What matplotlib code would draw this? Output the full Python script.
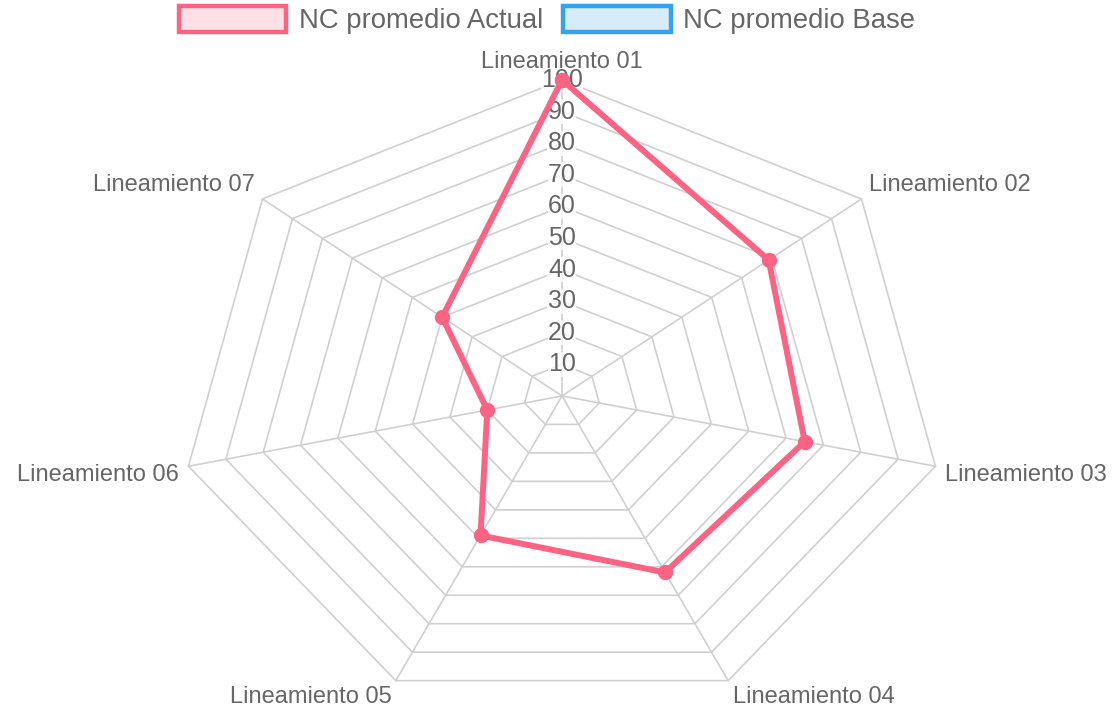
import numpy as np
import matplotlib.pyplot as plt
from matplotlib.patches import Patch

# chart data
categories = ['Lineamiento 01', 'Lineamiento 02', 'Lineamiento 03', 'Lineamiento 04',
              'Lineamiento 05', 'Lineamiento 06', 'Lineamiento 07']
actual = [100, 69, 65, 62, 49, 20, 40]
base = []  # series listed in the legend, nothing drawn
ticks = [10, 20, 30, 40, 50, 60, 70, 80, 90, 100]
series_labels = ['NC promedio Actual', 'NC promedio Base']

plt.rcParams['font.family'] = ['Liberation Sans', 'DejaVu Sans']
text_color = '#666666'
grid_color = '#d0d0d0'
pink = '#ff6384'
blue = '#36a2eb'

fig = plt.figure(figsize=(11.14, 7.11), dpi=100)
ax = fig.add_axes([0, 0, 1, 1])
# the reference is stretched horizontally, so keep aspect free
ax.set_xlim(-146.7, 144.1)
ax.set_ylim(-99.7, 125.3)
ax.axis('off')

n = len(categories)
ang = np.arange(n) * 2 * np.pi / n
sx, sy = np.sin(ang), np.cos(ang)

# grid polygons
for t in ticks:
    ax.plot(np.append(sx, sx[0]) * t, np.append(sy, sy[0]) * t,
            color=grid_color, lw=1.2, zorder=1)
# angle lines
for i in range(n):
    ax.plot([0, sx[i] * ticks[-1]], [0, sy[i] * ticks[-1]], color=grid_color, lw=1.2, zorder=1)

# radial tick labels
for t in ticks:
    ax.text(0, t, str(t), ha='center', va='center', fontsize=18, color=text_color,
            bbox=dict(facecolor='white', alpha=0.75, edgecolor='none', pad=0.3), zorder=2)

# point labels
for i, lab in enumerate(categories):
    if sx[i] > 0.1:
        ha = 'left'
    elif sx[i] < -0.1:
        ha = 'right'
    else:
        ha = 'center'
    dy = sy[i] * 12 + np.sign(sy[i]) * 6
    ax.annotate(lab, (sx[i] * ticks[-1], sy[i] * ticks[-1]),
                xytext=(sx[i] * 10, dy), textcoords='offset pixels',
                ha=ha, va='center', fontsize=17, color=text_color)

# data series
vals = np.array(actual, dtype=float)
xs = np.append(sx * vals, sx[0] * vals[0])
ys = np.append(sy * vals, sy[0] * vals[0])
ax.plot(xs, ys, color=pink, lw=4.3, marker='o', ms=10, solid_joinstyle='round', zorder=3)
if base:
    bv = np.array(base, dtype=float)
    ax.plot(np.append(sx * bv, sx[0] * bv[0]), np.append(sy * bv, sy[0] * bv[0]),
            color=blue, lw=4.3, marker='o', ms=10, zorder=3)

handles = [Patch(facecolor='#ffe0e6', edgecolor=pink, linewidth=3.2),
           Patch(facecolor='#d7ecfb', edgecolor=blue, linewidth=3.2)]
fig.legend(handles, series_labels, loc='upper center', bbox_to_anchor=(0.491, 1.003),
           ncol=2, frameon=False, fontsize=19.8, handlelength=3.9, handleheight=1.05,
           handletextpad=0.45, columnspacing=0.75, borderaxespad=0.1, borderpad=0.2,
           labelcolor=text_color)

fig.savefig('out.png', dpi=100)
